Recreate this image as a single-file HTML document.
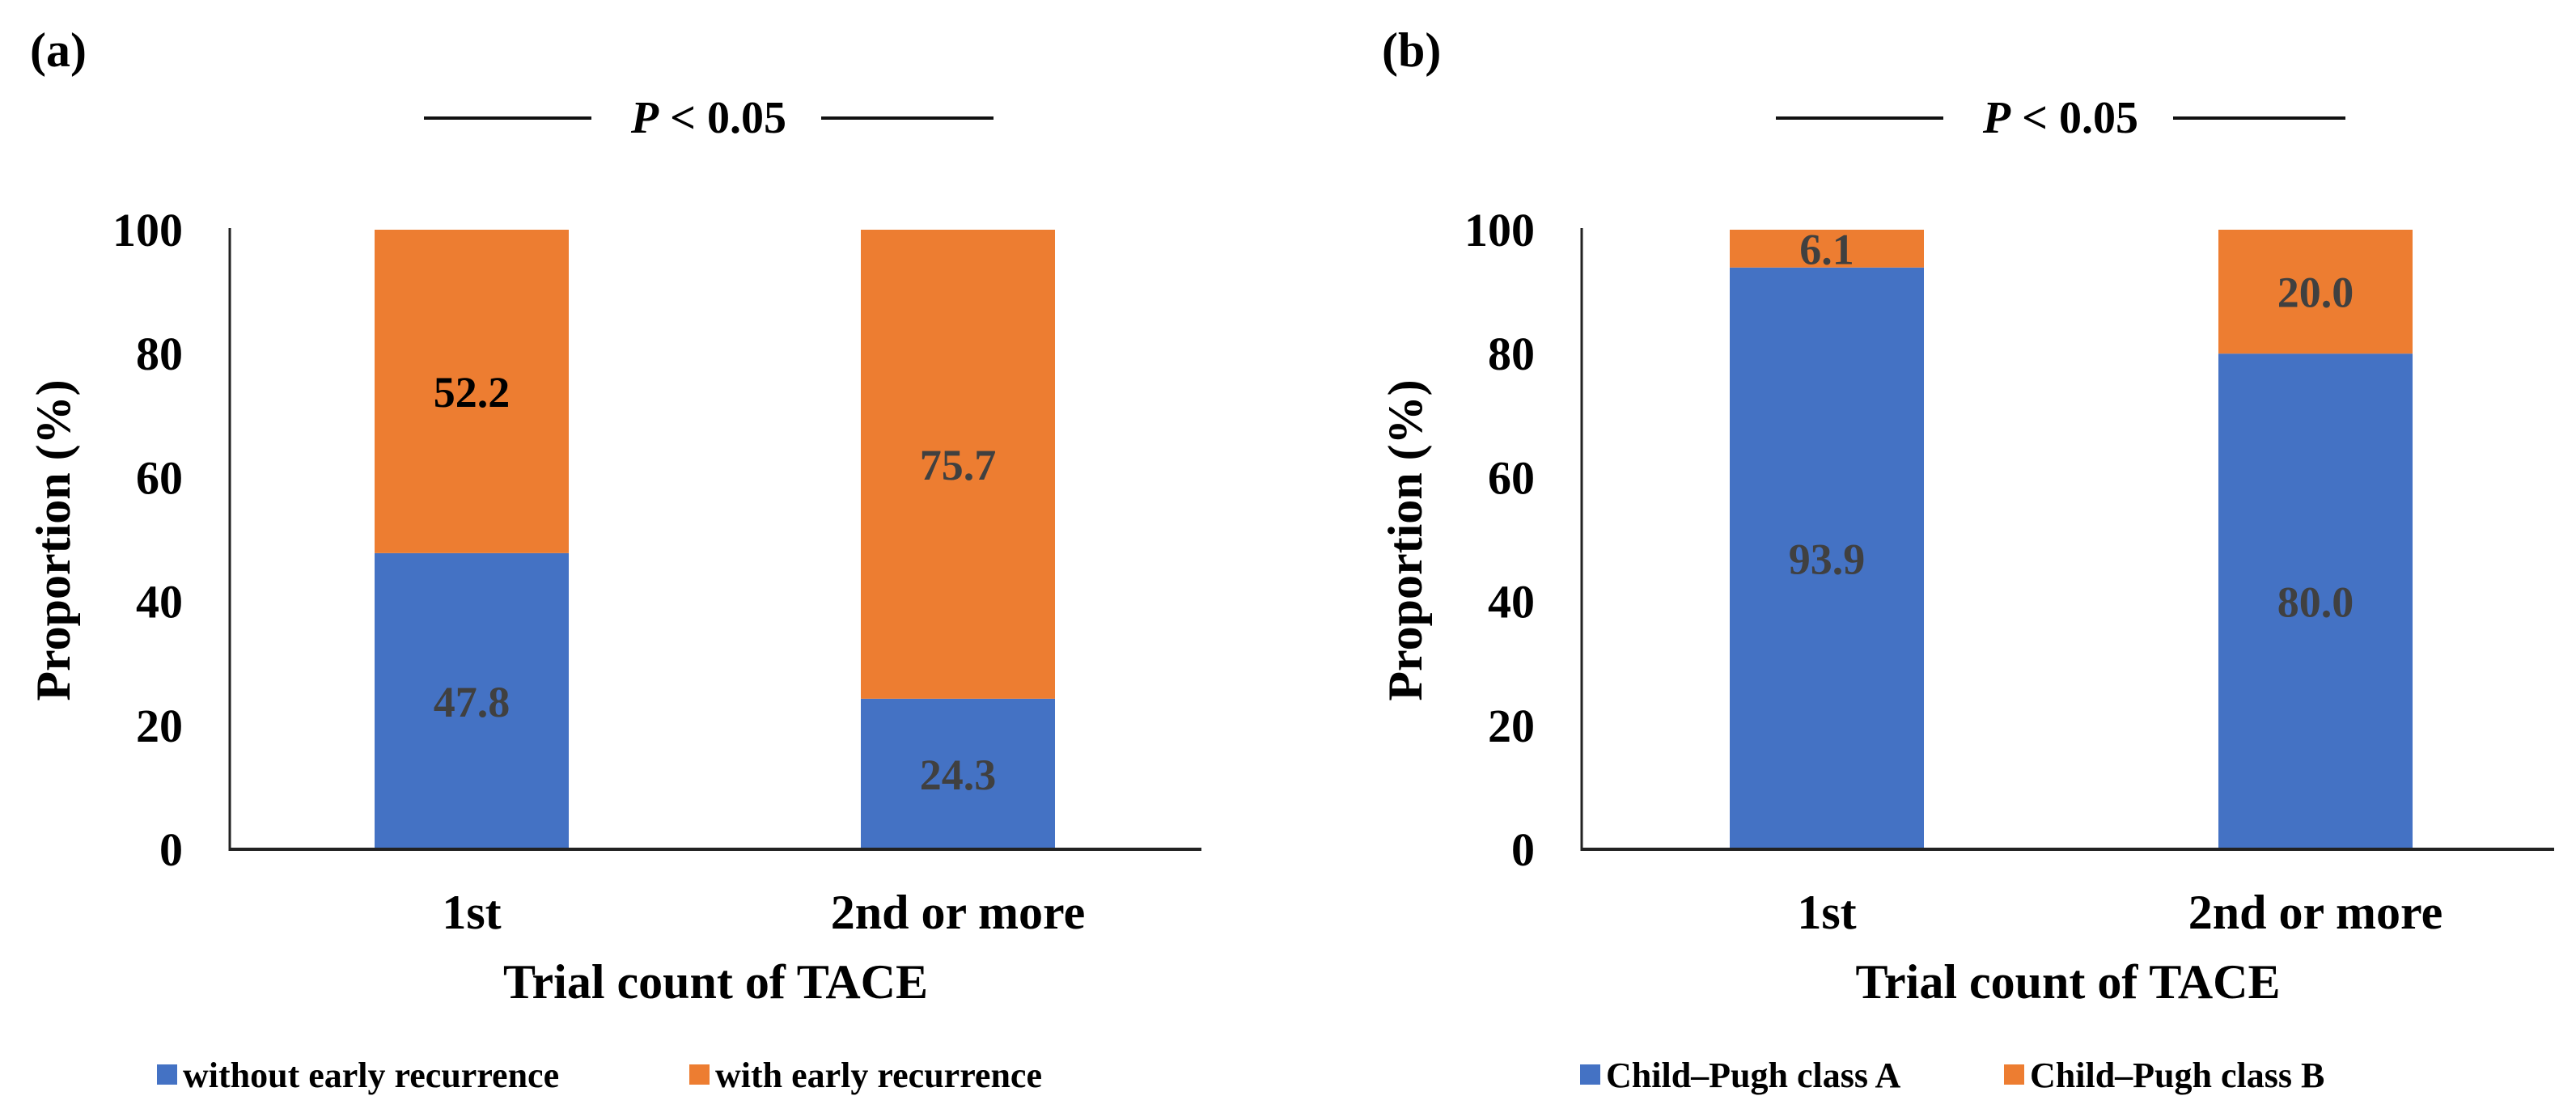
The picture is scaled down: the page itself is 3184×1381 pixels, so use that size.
<!DOCTYPE html>
<html><head><meta charset="utf-8"><style>
html,body{margin:0;padding:0;background:#fff;}
svg{display:block;font-family:"Liberation Serif","Times New Roman","DejaVu Serif",serif;}
svg text{font-family:"Liberation Serif","Times New Roman","DejaVu Serif",serif !important;font-weight:bold;}
</style></head><body>
<svg id="chart" width="3184" height="1381" viewBox="0 0 3184 1381" xmlns="http://www.w3.org/2000/svg" font-family="Liberation Serif, serif"></svg>
<script>
const categories = ["1st", "2nd or more"];
const seriesA1 = [47.8, 24.3];
const seriesA2 = [52.2, 75.7];
const seriesB1 = [93.9, 80.0];
const seriesB2 = [6.1, 20.0];
const yTicks = [0, 20, 40, 60, 80, 100];
const legendA = ["without early recurrence", "with early recurrence"];
const legendB = ["Child\u2013Pugh class A", "Child\u2013Pugh class B"];

const NS = "http://www.w3.org/2000/svg";
const svg = document.getElementById("chart");
function mk(tag, attrs, parent) {
  const e = document.createElementNS(NS, tag);
  for (const k in attrs) e.setAttribute(k, attrs[k]);
  if (tag === "text") { e.setAttribute("font-family", "Liberation Serif, serif"); e.setAttribute("font-weight", "bold"); }
  (parent || svg).appendChild(e);
  return e;
}
const BLUE = "#4472C4", ORANGE = "#ED7D31";
const Y0 = 1050, Y100 = 284;
function yScale(v) { return Y0 - (Y0 - Y100) * v / 100; }

function panel(cfg) {
  const g = mk("g", {});
  
  
  const lab = mk("text", {x: cfg.axisX - 247, y: 82, "font-size": 60}, g);
  lab.textContent = cfg.label;
  
  
  const l1 = mk("line", {x1: cfg.axisX + 240, x2: cfg.axisX + 447, y1: 146, y2: 146, stroke: "#111", "stroke-width": 4}, g);
  
  
  const pt = mk("text", {x: cfg.axisX + 592, y: 164, "font-size": 56, "text-anchor": "middle"}, g);
  pt.innerHTML = '<tspan font-style="italic">P</tspan> &lt; 0.05';
  
  
  const l2 = mk("line", {x1: cfg.axisX + 731, x2: cfg.axisX + 944, y1: 146, y2: 146, stroke: "#111", "stroke-width": 4}, g);
  
  
  yTicks.forEach(t => {
    const tx = mk("text", {x: cfg.axisX - 58, y: yScale(t) + 20, "font-size": 58, "text-anchor": "end"}, g);
    tx.textContent = t;
    
    
  });
  const yt = mk("text", {x: 0, y: 0, "font-size": 60, "text-anchor": "middle", transform: `translate(${cfg.axisX - 198},668) rotate(-90)`}, g);
  yt.textContent = "Proportion (%)";
  
  
  const barW = 240;
  categories.forEach((c, i) => {
    const cx = cfg.centers[i];
    const v1 = cfg.s1[i], v2 = cfg.s2[i];
    const r1 = mk("rect", {x: cx - barW / 2, y: yScale(v1), width: barW, height: Y0 - yScale(v1), fill: BLUE}, g);
    
    
    const r2 = mk("rect", {x: cx - barW / 2, y: yScale(v1 + v2), width: barW, height: yScale(v1) - yScale(v1 + v2), fill: ORANGE}, g);
    
    
    const t1 = mk("text", {x: cx, y: (yScale(0) + yScale(v1)) / 2 + 19, "font-size": 54, "text-anchor": "middle", fill: "#404040"}, g);
    t1.textContent = v1.toFixed(1);
    
    
    const t2 = mk("text", {x: cx, y: (yScale(v1) + yScale(v1 + v2)) / 2 + 19, "font-size": 54, "text-anchor": "middle", fill: cfg.topColor[i]}, g);
    t2.textContent = v2.toFixed(1);
    
    
    const cl = mk("text", {x: cx, y: 1148, "font-size": 60, "text-anchor": "middle"}, g);
    cl.textContent = c;
    
    
  });
  const ya = mk("line", {x1: cfg.axisX, x2: cfg.axisX, y1: Y100 - 2, y2: Y0 + 2, stroke: "#222", "stroke-width": 3}, g);
  
  
  const xa = mk("line", {x1: cfg.axisX, x2: cfg.axisEnd, y1: Y0, y2: Y0, stroke: "#222", "stroke-width": 4}, g);
  
  
  const xt = mk("text", {x: (cfg.axisX + cfg.axisEnd) / 2, y: 1234, "font-size": 60, "text-anchor": "middle"}, g);
  xt.textContent = "Trial count of TACE";
  
  
  [BLUE, ORANGE].forEach((col, i) => {
    const lx = cfg.legendX[i];
    const sq = mk("rect", {x: lx, y: 1316, width: 25, height: 25, fill: col}, g);
    
    
    const lt = mk("text", {x: lx + 32, y: 1344, "font-size": 44}, g);
    lt.textContent = cfg.legend[i];
    
    
  });
}

panel({name: "panel-a", label: "(a)", axisX: 284, axisEnd: 1485, centers: [583, 1184],
  s1: seriesA1, s2: seriesA2, topColor: ["#000", "#404040"], legend: legendA, legendX: [194, 852]});
panel({name: "panel-b", label: "(b)", axisX: 1955, axisEnd: 3157, centers: [2258, 2862],
  s1: seriesB1, s2: seriesB2, topColor: ["#404040", "#404040"], legend: legendB, legendX: [1953, 2477]});
</script>
</body></html>
